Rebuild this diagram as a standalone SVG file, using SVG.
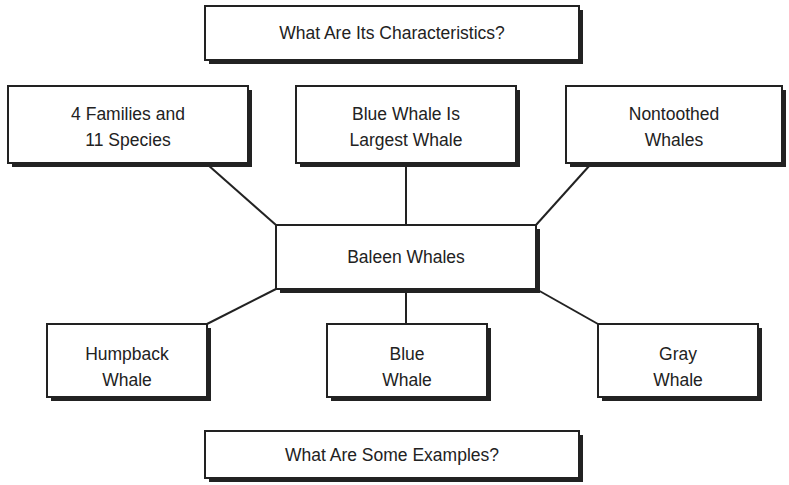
<svg xmlns="http://www.w3.org/2000/svg" width="789" height="485" viewBox="0 0 789 485">
<defs>
<filter id="sh" x="-5%" y="-10%" width="115%" height="130%">
<feGaussianBlur stdDeviation="0.6"/>
</filter>
<style>
.s{fill:#222;filter:url(#sh)}
.b{fill:#fff;stroke:#222;stroke-width:2}
.t{font-family:"Liberation Sans",Arial,sans-serif;font-size:17.5px;fill:#222;text-anchor:middle}
.c{stroke:#222;stroke-width:2;fill:none}
</style>
</defs>
<rect width="789" height="485" fill="#fff"/>
<g id="connectors">
<line class="c" x1="208" y1="165" x2="276" y2="225"/>
<line class="c" x1="406" y1="164" x2="406" y2="225"/>
<line class="c" x1="590" y1="165" x2="536" y2="225"/>
<line class="c" x1="276" y1="289" x2="207" y2="324"/>
<line class="c" x1="406" y1="289" x2="406" y2="324"/>
<line class="c" x1="536" y1="289" x2="598" y2="324"/>
</g>
<g id="n-characteristics">
<rect class="s" x="209" y="10" width="374" height="54"/>
<rect class="b" x="205" y="6" width="374" height="54"/>
<text class="t" x="392" y="39">What Are Its Characteristics?</text>
</g>
<g id="n-families">
<rect class="s" x="12" y="90" width="240" height="77"/>
<rect class="b" x="8" y="86" width="240" height="77"/>
<text class="t" x="128" y="120">4 Families and</text>
<text class="t" x="128" y="146">11 Species</text>
</g>
<g id="n-largest">
<rect class="s" x="300" y="90" width="220" height="77"/>
<rect class="b" x="296" y="86" width="220" height="77"/>
<text class="t" x="406" y="120">Blue Whale Is</text>
<text class="t" x="406" y="146">Largest Whale</text>
</g>
<g id="n-nontoothed">
<rect class="s" x="570" y="90" width="216" height="77"/>
<rect class="b" x="566" y="86" width="216" height="77"/>
<text class="t" x="674" y="120">Nontoothed</text>
<text class="t" x="674" y="146">Whales</text>
</g>
<g id="n-baleen">
<rect class="s" x="280" y="229" width="260" height="64"/>
<rect class="b" x="276" y="225" width="260" height="64"/>
<text class="t" x="406" y="263">Baleen Whales</text>
</g>
<g id="n-humpback">
<rect class="s" x="51" y="328" width="160" height="73"/>
<rect class="b" x="47" y="324" width="160" height="73"/>
<text class="t" x="127" y="360">Humpback</text>
<text class="t" x="127" y="386">Whale</text>
</g>
<g id="n-blue">
<rect class="s" x="331" y="328" width="160" height="73"/>
<rect class="b" x="327" y="324" width="160" height="73"/>
<text class="t" x="407" y="360">Blue</text>
<text class="t" x="407" y="386">Whale</text>
</g>
<g id="n-gray">
<rect class="s" x="602" y="328" width="160" height="73"/>
<rect class="b" x="598" y="324" width="160" height="73"/>
<text class="t" x="678" y="360">Gray</text>
<text class="t" x="678" y="386">Whale</text>
</g>
<g id="n-examples">
<rect class="s" x="209" y="435" width="374" height="47"/>
<rect class="b" x="205" y="431" width="374" height="47"/>
<text class="t" x="392" y="461">What Are Some Examples?</text>
</g>
</svg>
